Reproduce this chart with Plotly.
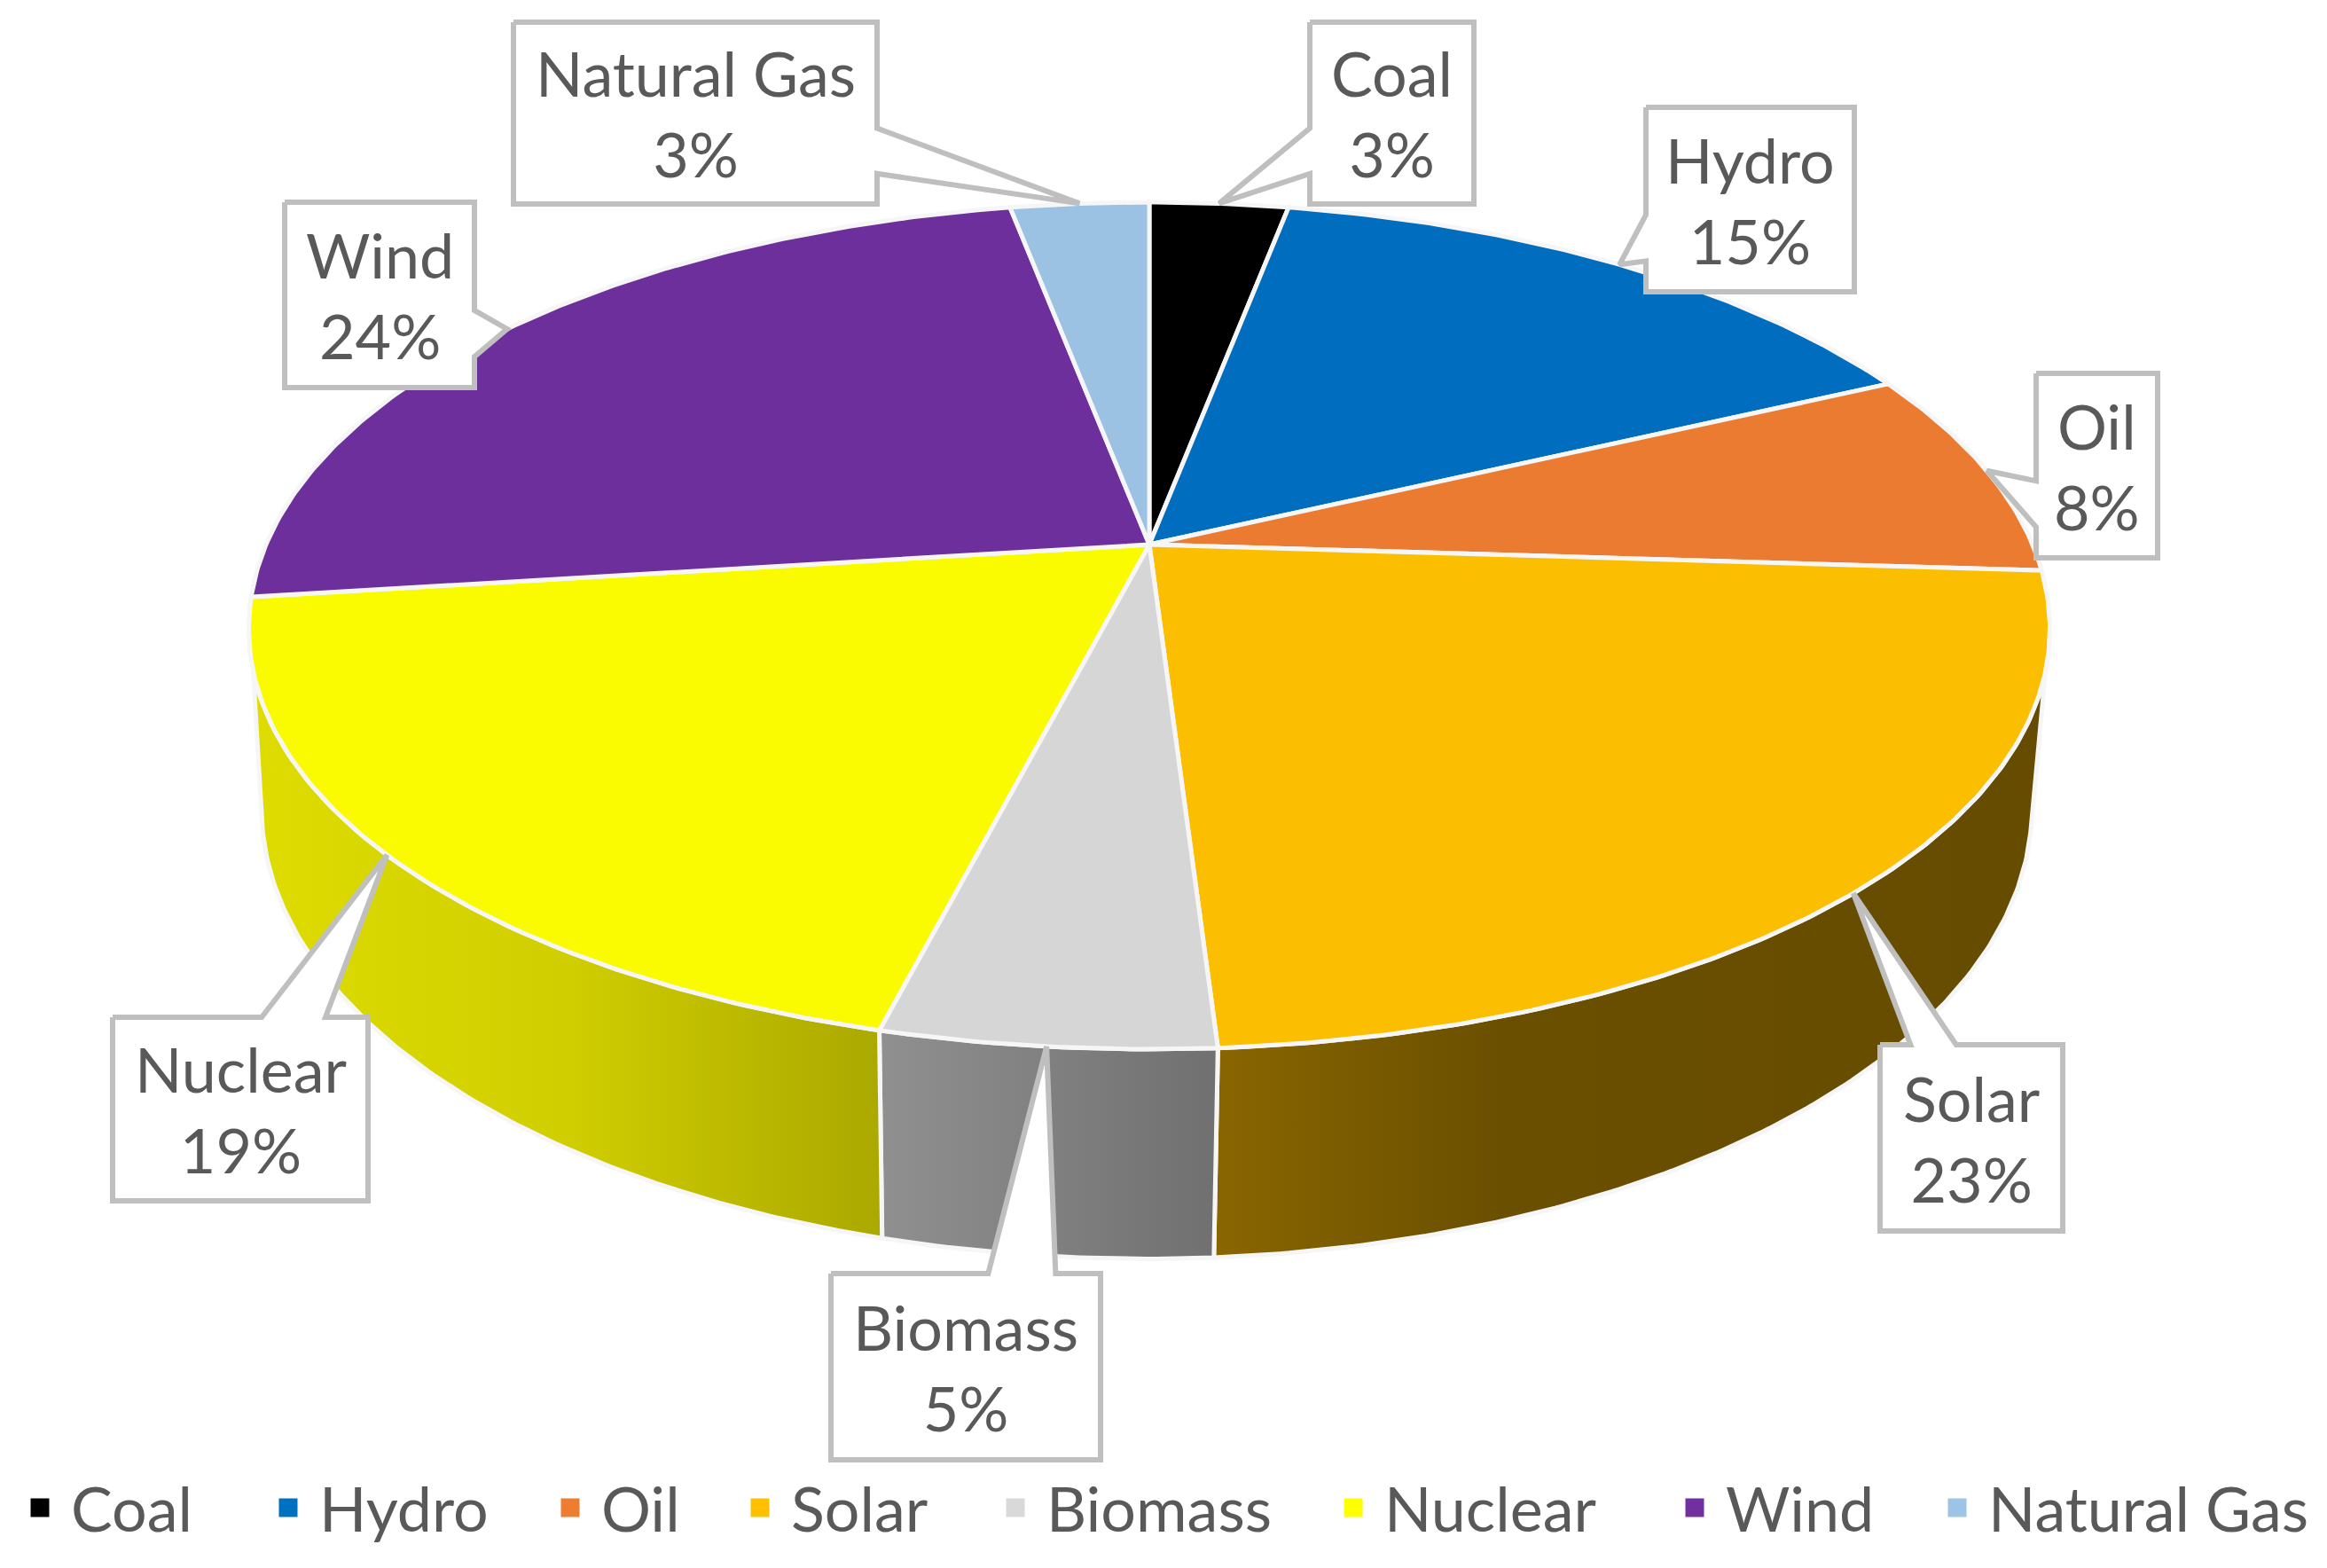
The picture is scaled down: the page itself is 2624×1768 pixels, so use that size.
import numpy as np
import plotly.graph_objects as go

# ---- data ----
categories = ["Coal", "Hydro", "Oil", "Solar", "Biomass", "Nuclear", "Wind", "Natural Gas"]
shares = [3, 15, 8, 23, 5, 19, 24, 3]

# ---- style ----
colors = ["#000000", "#0070C0", "#ED7D31", "#FFC000", "#D9D9D9", "#FFFF00", "#7030A0", "#9DC3E6"]
top_colors = ["#000000", "#006DBE", "#EA7B31", "#FBBE00", "#D6D6D6", "#FBFB00", "#6D2F9C", "#9BC1E3"]
wall_scales = {
    "Solar": [[0, "#8A6600"], [0.12, "#7E5E00"], [0.35, "#6A4F00"], [1, "#664C00"]],
    "Biomass": [[0, "#909090"], [1, "#707070"]],
    "Nuclear": [[0, "#DEDC00"], [0.5, "#D0CE00"], [1, "#ABA800"]],
}
TEXT = "#595959"
BOX = "#BFBFBF"
EDGE = "#F6F6F6"
FONT = "Lato"
FSIZE = 70
PAGE_MARGIN = 8  # the browser's default body margin

# perspective of the pie, in page pixels
CX, CY = 1296, 614
A, B, C, P, Q = 996, 460, 204, 0.1916, 0.016
BOTTOM_SHIFT = -3
# the wall is seen only between these angles (its silhouette is straight there)
TOP_LIMITS = (107, 253)
BOTTOM_LIMITS = (104, 256)


def project(t_deg, h=0.0):
    t = np.radians(t_deg)
    u, v = np.sin(t), np.cos(t)
    r = 1 + 0.005 * np.sin(2 * t) ** 2 * (v < 0) * (1 - h)
    w = 1 + P * v + Q * h
    return CX + BOTTOM_SHIFT * h + A * r * u / w, CY + (-B * r * v + C * h) / w


def arc(t0, t1, h=0.0):
    return project(np.linspace(t0, t1, max(int(abs(t1 - t0) * 2), 2)), h)


edges = np.cumsum([0] + shares) / sum(shares) * 360.0
fig = go.Figure()

# side walls
for i, name in enumerate(categories):
    t0, t1 = edges[i], edges[i + 1]
    if name in wall_scales:
        xa, ya = arc(max(t0, TOP_LIMITS[0]), min(t1, TOP_LIMITS[1]), 0)
        xb, yb = arc(min(t1, BOTTOM_LIMITS[1]), max(t0, BOTTOM_LIMITS[0]), 1)
        fig.add_trace(go.Scatter(
            x=np.r_[xa, xb, xa[0]], y=np.r_[ya, yb, ya[0]], mode="lines", fill="toself",
            fillgradient=dict(type="horizontal", colorscale=wall_scales[name]),
            line=dict(color=EDGE, width=5), showlegend=False, hoverinfo="skip"))

# top faces
for i, name in enumerate(categories):
    xa, ya = arc(edges[i], edges[i + 1], 0)
    fig.add_trace(go.Scatter(
        x=np.r_[CX, xa, CX], y=np.r_[CY, ya, CY], mode="lines", fill="toself",
        fillcolor=top_colors[i], line=dict(color=EDGE, width=5),
        name=name, showlegend=False, hoverinfo="text", text=f"{name}: {shares[i]}%"))

# callout boxes: left, top, right, bottom, side that carries the pointer
boxes = {
    "Coal": (1477, 25, 1662, 230, "left"),
    "Hydro": (1856, 121, 2091, 329, "left"),
    "Oil": (2296, 421, 2433, 629, "left"),
    "Solar": (2120, 1178, 2326, 1388, "top"),
    "Biomass": (937, 1436, 1241, 1646, "top"),
    "Nuclear": (127, 1147, 415, 1354, "top"),
    "Wind": (321, 228, 535, 437, "right"),
    "Natural Gas": (579, 25, 989, 230, "right"),
}
tip_angle_offset = {"Solar": 2.0}

annotations = []
for i, name in enumerate(categories):
    l, t, r, b, side = boxes[name]
    tx, ty = project((edges[i] + edges[i + 1]) / 2 + tip_angle_offset.get(name, 0.0))
    if side in ("left", "right"):
        f0, f1 = (7 / 12, 10 / 12) if ty > (t + b) / 2 else (2 / 12, 5 / 12)
        y0, y1 = t + f0 * (b - t), t + f1 * (b - t)
        if side == "left":
            px = [l, r, r, l, l, tx, l, l]
            py = [t, t, b, b, y1, ty, y0, t]
        else:
            px = [l, r, r, tx, r, r, l, l]
            py = [t, t, y0, ty, y1, b, b, t]
    else:
        f0, f1 = (7 / 12, 10 / 12) if tx > (l + r) / 2 else (2 / 12, 5 / 12)
        x0, x1 = l + f0 * (r - l), l + f1 * (r - l)
        px = [l, x0, tx, x1, r, r, l, l]
        py = [t, t, ty, t, t, b, b, t]
    fig.add_trace(go.Scatter(x=px, y=py, mode="lines", fill="toself", fillcolor="white",
                             line=dict(color=BOX, width=6), showlegend=False, hoverinfo="skip"))
    annotations.append(dict(
        x=(l + r) / 2, y=(t + b) / 2, xref="x", yref="y", showarrow=False,
        text=f"{name}<br>{shares[i]}%", align="center",
        font=dict(family=FONT, size=FSIZE, color=TEXT)))

# legend: one native legend per entry, so each can sit at its own offset
legend_left = [2, 282, 600, 814, 1102, 1483, 1868, 2164]
legend_layout = {}
for i, name in enumerate(categories):
    key = "legend" if i == 0 else f"legend{i + 1}"
    fig.add_trace(go.Scatter(x=[None], y=[None], mode="markers", name=name, legend=key,
                             marker=dict(symbol="square", size=16, color=colors[i],
                                         line=dict(color=colors[i], width=5)),
                             showlegend=True, hoverinfo="skip"))
    legend_layout[key] = dict(
        x=legend_left[i] / 2624, y=1 - 1692 / 1768, xanchor="left", yanchor="middle",
        bgcolor="rgba(0,0,0,0)", borderwidth=0, itemwidth=60,
        font=dict(family=FONT, size=FSIZE, color=TEXT))

fig.update_layout(
    width=2624, height=1768, margin=dict(l=0, r=0, t=0, b=0),
    paper_bgcolor="white", plot_bgcolor="white",
    xaxis=dict(range=[PAGE_MARGIN, 2624 + PAGE_MARGIN], visible=False, fixedrange=True),
    yaxis=dict(range=[1768 + PAGE_MARGIN, PAGE_MARGIN], visible=False, fixedrange=True),
    annotations=annotations, hovermode="closest",
    **legend_layout)

fig.write_html("out.html")
